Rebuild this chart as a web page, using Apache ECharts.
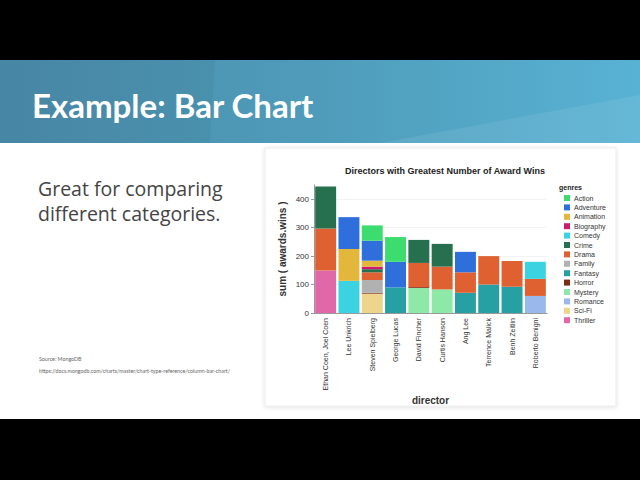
<!DOCTYPE html>
<html>
<head>
<meta charset="utf-8">
<script src="https://cdn.jsdelivr.net/npm/echarts@6/dist/echarts.min.js"></script>
<style>
  html, body { margin: 0; padding: 0; background: #000; }
  #main { width: 640px; height: 480px; }
</style>
</head>
<body>
<div id="main"></div>
<script>
// directors on the x axis
var directors = ['Ethan Coen, Joel Coen', 'Lee Unkrich', 'Steven Spielberg', 'George Lucas', 'David Fincher',
  'Curtis Hanson', 'Ang Lee', 'Terrence Malick', 'Benh Zeitlin', 'Roberto Benigni'];

// awards wins per genre, one value per director
var action    = [0, 0, 54, 87, 0, 0, 0, 0, 0, 0];
var adventure = [0, 112, 70, 90, 0, 0, 72, 0, 0, 0];
var animation = [0, 112, 21, 0, 0, 0, 0, 0, 0, 0];
var biography = [0, 0, 9, 0, 0, 0, 0, 0, 0, 0];
var comedy    = [0, 113, 0, 0, 0, 0, 0, 0, 0, 60];
var crime     = [148, 0, 11, 0, 81, 80, 0, 0, 0, 0];
var drama     = [148, 0, 27, 0, 85, 80, 72, 100, 91, 60];
var family    = [0, 0, 45, 0, 0, 0, 0, 0, 0, 0];
var fantasy   = [0, 0, 0, 90, 0, 0, 71, 100, 92, 0];
var horror    = [0, 0, 3, 0, 3, 0, 0, 0, 0, 0];
var mystery   = [0, 0, 0, 0, 88, 83, 0, 0, 0, 0];
var romance   = [0, 0, 0, 0, 0, 0, 0, 0, 0, 60];
var scifi     = [0, 0, 68, 0, 0, 0, 0, 0, 0, 0];
var thriller  = [149, 0, 0, 0, 0, 0, 0, 0, 0, 0];

var genres = ['Action', 'Adventure', 'Animation', 'Biography', 'Comedy', 'Crime', 'Drama',
  'Family', 'Fantasy', 'Horror', 'Mystery', 'Romance', 'Sci-Fi', 'Thriller'];
var genreColors = ['#3ddc6e', '#2f6fdc', '#e3b73c', '#cc1a6e', '#3bd3e2', '#26704f', '#df6131',
  '#b1b1b1', '#27a0a4', '#7a2c17', '#8ee9a8', '#9ab8ec', '#edd58c', '#e068a8'];
var genreData = [action, adventure, animation, biography, comedy, crime, drama,
  family, fantasy, horror, mystery, romance, scifi, thriller];

var yTicks = [0, 100, 200, 300, 400];

(function () {
  var myChart = echarts.init(document.getElementById('main'), null, { renderer: 'svg' });

  // last genre sits at the bottom of each stack
  var series = [];
  for (var i = genres.length - 1; i >= 0; i--) {
    series.push({
      name: genres[i],
      type: 'bar',
      stack: 'wins',
      barCategoryGap: '10%',
      itemStyle: { color: genreColors[i] },
      data: genreData[i]
    });
  }

  var option = {
    backgroundColor: '#000',
    animation: false,
    textStyle: { fontFamily: 'Liberation Sans' },
    title: {
      text: 'Directors with Greatest Number of Award Wins',
      left: 440,
      top: 161,
      textAlign: 'center',
      textStyle: { fontSize: 9, fontWeight: 'bold', color: '#222', fontFamily: 'Liberation Sans' }
    },
    legend: {
      data: genres,
      orient: 'vertical',
      left: 559,
      top: 189,
      icon: 'rect',
      itemWidth: 6,
      itemHeight: 6,
      itemGap: 1.4,
      textStyle: { fontSize: 7, color: '#333', lineHeight: 8, padding: [0, 0, 0, -1] }
    },
    grid: { left: 314, right: 93, top: 185, bottom: 167, containLabel: false },
    xAxis: {
      type: 'category',
      data: directors,
      name: 'director',
      nameLocation: 'middle',
      nameGap: 82,
      nameTextStyle: { fontSize: 10, fontWeight: 'bold', color: '#333' },
      axisLine: { lineStyle: { color: '#999' } },
      axisTick: { alignWithLabel: true, length: 3, lineStyle: { color: '#999' } },
      axisLabel: { rotate: 90, interval: 0, fontSize: 7, color: '#333', margin: 5 }
    },
    yAxis: {
      type: 'value',
      min: 0,
      max: 450,
      interval: 100,
      name: 'sum ( awards.wins )',
      nameLocation: 'middle',
      nameGap: 27,
      nameTextStyle: { fontSize: 10, fontWeight: 'bold', color: '#333' },
      axisLine: { show: true, lineStyle: { color: '#999' } },
      axisTick: { show: true, length: 3, customValues: yTicks, lineStyle: { color: '#999' } },
      axisLabel: { fontSize: 8, color: '#333', margin: 5, customValues: yTicks },
      splitLine: { lineStyle: { color: '#f3f3f3' } }
    },
    graphic: [
      { type: 'rect', z: -10, shape: { x: 0, y: 60, width: 640, height: 359 }, style: { fill: '#fff' } },
      {
        type: 'rect', z: -9, shape: { x: 0, y: 60, width: 640, height: 83 },
        style: {
          fill: new echarts.graphic.LinearGradient(0, 0, 1, 0, [
            { offset: 0, color: '#4a8cab' },
            { offset: 0.5, color: '#4f9cba' },
            { offset: 1, color: '#58b2d4' }
          ])
        }
      },
      { type: 'polygon', z: -8, shape: { points: [[380, 143], [640, 95], [640, 143]] }, style: { fill: 'rgba(255,255,255,0.08)' } },
      { type: 'polygon', z: -8, shape: { points: [[0, 60], [215, 60], [210, 143], [0, 143]] }, style: { fill: 'rgba(0,0,0,0.04)' } },
      {
        type: 'text', z: 5, style: {
          x: 32, y: 105, text: 'Example: Bar Chart', verticalAlign: 'middle',
          fill: '#fff', font: 'bold 33px Lato'
        }
      },
      {
        type: 'text', z: 5, style: {
          x: 38, y: 188, text: 'Great for comparing', verticalAlign: 'middle',
          fill: '#444', font: '19.5px "Open Sans"'
        }
      },
      {
        type: 'text', z: 5, style: {
          x: 38, y: 213, text: 'different categories.', verticalAlign: 'middle',
          fill: '#444', font: '19.5px "Open Sans"'
        }
      },
      {
        type: 'text', z: 5, style: {
          x: 39, y: 359, text: 'Source: MongoDB', verticalAlign: 'middle',
          fill: '#666', font: '5.3px Lato'
        }
      },
      {
        type: 'text', z: 5, style: {
          x: 39, y: 371, text: 'https://docs.mongodb.com/charts/master/chart-type-reference/column-bar-chart/',
          verticalAlign: 'middle', fill: '#666', font: '5.3px Lato'
        }
      },
      {
        type: 'rect', z: -5, shape: { x: 265, y: 148, width: 351, height: 258 },
        style: { fill: '#fff', stroke: '#ececec', lineWidth: 1, shadowBlur: 4, shadowColor: 'rgba(0,0,0,0.12)', shadowOffsetY: 1 }
      },
      {
        type: 'text', z: 5, style: {
          x: 559, y: 187, text: 'genres', verticalAlign: 'middle',
          fill: '#222', font: 'bold 7px Liberation Sans'
        }
      }
    ],
    series: series
  };
  myChart.setOption(option);
  window.addEventListener('resize', function () {
    myChart.resize();
  });
})();
</script>
</body>
</html>
